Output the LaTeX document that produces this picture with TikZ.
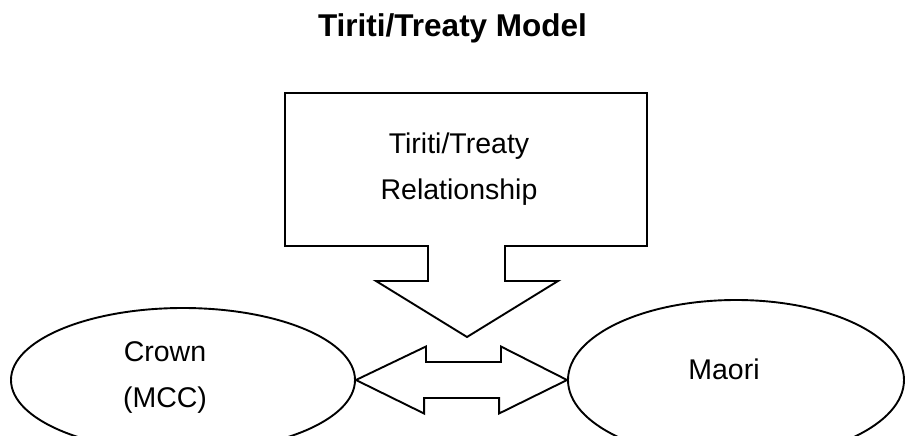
\documentclass[tikz,border=0pt]{standalone}
\usepackage{fontspec}
\setmainfont{Liberation Sans}
\usepackage{tikz}
\usetikzlibrary{shapes.geometric}

\begin{document}
\begin{tikzpicture}
    [ x = 1pt, y = -1pt
    , outline/.style =
      { draw, line width=1.9pt, line join=miter }
    , party/.style =
      { outline, ellipse, inner sep=0pt }
    , words/.style =
      { align=center, inner sep=0pt, font=\fontsize{28.5}{46}\selectfont }
    , heading/.style =
      { inner sep=0pt, font=\fontsize{31.5}{37}\selectfont\bfseries }
    ]
    \useasboundingbox (0,0) rectangle (905,436);

    \node [heading, anchor=base] (title) at (452.5,37) {Tiriti/Treaty Model};

    % callout box with its arrow pointing down
    \draw [outline] (285,93) -- (647,93) -- (647,246) -- (505,246) -- (505,281)
      -- (558,281) -- (467,337) -- (376,281) -- (428,281) -- (428,246)
      -- (285,246) -- cycle;
    \node [words] (treaty) at (459,169) {Tiriti/Treaty\\Relationship};

    \node [party, minimum width=344pt, minimum height=144pt] (crown) at (183,380) {};
    \node [party, minimum width=336pt, minimum height=160pt] (maori) at (736,380) {};
    \node [words] (crowntext) at (165,377) {Crown\\(MCC)};
    \node [words, anchor=base] (maoritext) at (724,379) {Maori};

    % two-way arrow between the parties
    \draw [outline] (crown.east) -- ++(70,-33.5) -- ++(0,15.5) -- ++(75,0)
      -- ++(0,-15.5) -- (maori.west) -- ++(-68,33.5) -- ++(0,-15.5)
      -- ++(-75,0) -- ++(0,15.5) -- cycle;
  \end{tikzpicture}
\end{document}
